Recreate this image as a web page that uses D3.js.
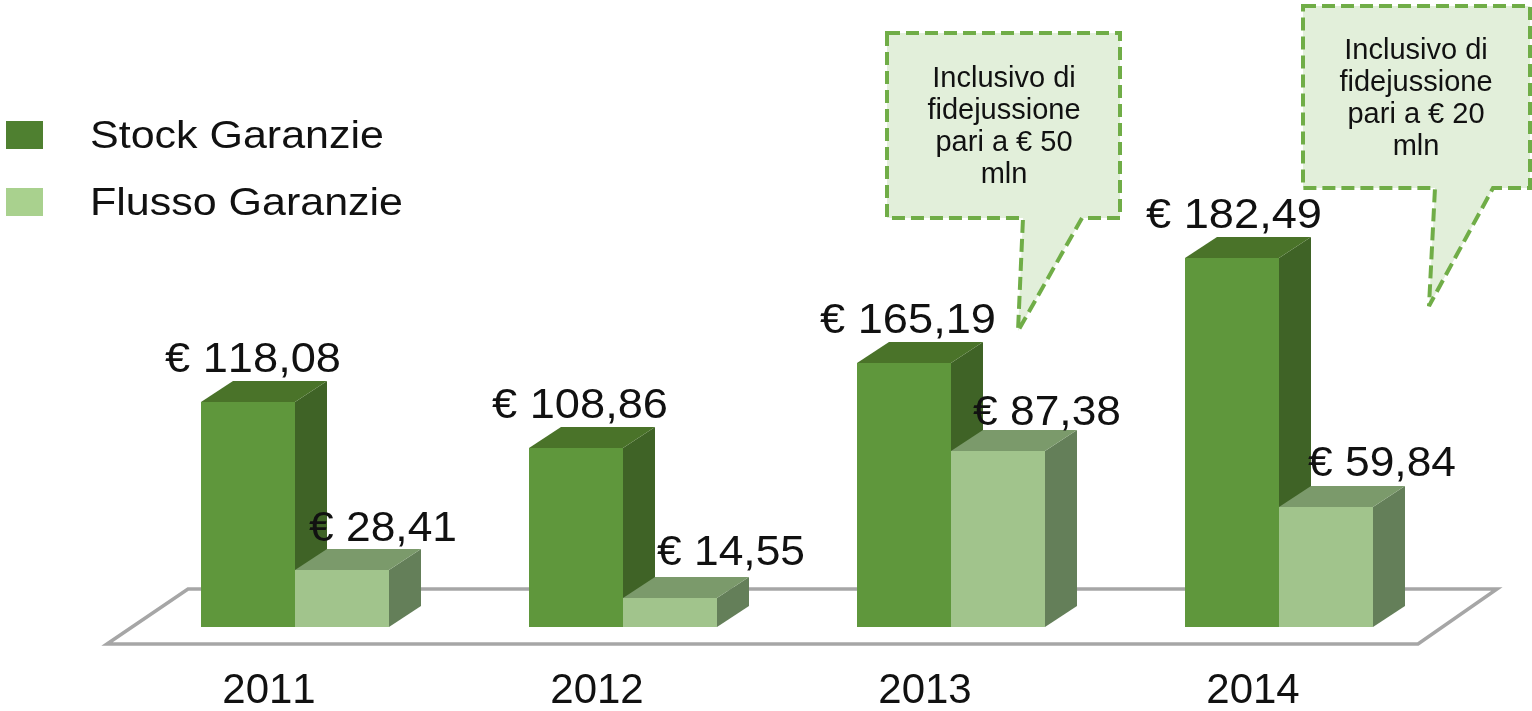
<!DOCTYPE html>
<html><head><meta charset="utf-8">
<script src="https://cdn.jsdelivr.net/npm/d3@7/dist/d3.min.js"></script>
<style>
html,body{margin:0;padding:0;background:#fff;overflow:hidden}
svg{display:block;filter:blur(0.6px)}
text{font-family:"Liberation Sans",Arial,sans-serif;fill:#111;font-kerning:none}
</style></head><body>
<script>
const years = ["2011","2012","2013","2014"];
const seriesNames = ["Stock Garanzie","Flusso Garanzie"];
// values printed on the chart
const stockLabels = [118.08,108.86,165.19,182.49];
const flowLabels = [28.41,14.55,87.38,59.84];
// bar heights as drawn, read on the same scale (the stock bars do not all follow their printed value)
const stockDrawn = [112,89,131.3,183.6];
const flowDrawn = [28.41,14.55,87.38,59.84];
const calloutOne = ["Inclusivo di","fidejussione","pari a € 50","mln"];
const calloutTwo = ["Inclusivo di","fidejussione","pari a € 20","mln"];

const W=1532,H=711,base=627,dx=32,dy=-21;
const svg=d3.select("body").append("svg").attr("width",W).attr("height",H);
const x0=d3.scaleBand().domain(years).range([131,1443]);
const x1=d3.scaleBand().domain(["stock","flow"]).range([0,188]);
const y=d3.scaleLinear().domain([0,200]).range([base,base-402]);
const offset=(x0.bandwidth()-188)/2;
const fmt=d3.formatLocale({decimal:",",thousands:".",grouping:[3],currency:["€ ",""]}).format("$.2f");

// floor
svg.append("polygon").attr("points","107,644 188,589 1497,589 1418,644")
  .attr("fill","#fff").attr("stroke","#a6a6a6").attr("stroke-width",3.5);

const palette={stock:{front:"#5f973c",top:"#4a7329",side:"#3f6326"},
               flow:{front:"#a1c48c",top:"#7b9a6b",side:"#647f59"}};
function bar(g,key,year,v){
  const c=palette[key],l=x0(year)+offset+x1(key),w=x1.bandwidth(),r=l+w,t=Math.round(y(v)),b=y(0);
  g.append("polygon").attr("points",[[r,t],[r+dx,t+dy],[r+dx,b+dy],[r,b]].join(" ")).attr("fill",c.side);
  g.append("polygon").attr("points",[[l,t],[l+dx,t+dy],[r+dx,t+dy],[r,t]].join(" ")).attr("fill",c.top);
  g.append("rect").attr("x",l).attr("y",t).attr("width",w).attr("height",b-t).attr("fill",c.front);
}
const bars=svg.append("g");
years.forEach((yr,i)=>{bar(bars,"stock",yr,stockDrawn[i]);bar(bars,"flow",yr,flowDrawn[i]);});

// data labels: nudges from the bar's top-centre, by hand as in the source
const stockNudge=[[5,-30],[4,-30],[4,-30],[2,-30]];
const flowNudge=[[41,-29],[61,-33],[49,-26],[56,-31]];
const labels=svg.append("g").attr("font-size",42).attr("text-anchor","middle");
years.forEach((yr,i)=>{
  labels.append("text").text(fmt(stockLabels[i])).attr("textLength",176).attr("lengthAdjust","spacingAndGlyphs")
    .attr("x",x0(yr)+offset+x1("stock")+x1.bandwidth()/2+stockNudge[i][0])
    .attr("y",y(stockDrawn[i])+stockNudge[i][1]);
  labels.append("text").text(fmt(flowLabels[i])).attr("textLength",148).attr("lengthAdjust","spacingAndGlyphs")
    .attr("x",x0(yr)+offset+x1("flow")+x1.bandwidth()/2+flowNudge[i][0])
    .attr("y",y(flowDrawn[i])+flowNudge[i][1]);
});

// axis labels
svg.append("g").attr("transform","translate(-26,703)")
  .call(d3.axisBottom(x0).tickSize(0).tickPadding(0))
  .call(g=>g.select(".domain").remove())
  .call(g=>g.selectAll("text").attr("font-size",42).attr("font-family",'"Liberation Sans",Arial,sans-serif').attr("dy",0).attr("y",0).attr("fill","#111"));

// legend
const legendColors=["#4f8030","#a9d18e"];
const legendWidths=[294,313];
seriesNames.forEach((n,i)=>{
  const g=svg.append("g").attr("transform",`translate(0,${121+i*67})`);
  g.append("rect").attr("x",6).attr("y",0).attr("width",37).attr("height",28).attr("fill",legendColors[i]);
  g.append("text").attr("x",90).attr("y",27).attr("font-size",39).attr("textLength",legendWidths[i]).attr("lengthAdjust","spacingAndGlyphs").text(n);
});

// callouts
function callout(pts,cx,ty,lines){
  svg.append("polygon").attr("points",pts.join(" "))
    .attr("fill","#e2efda").attr("stroke","#70ad47").attr("stroke-width",4).attr("stroke-dasharray","13 6");
  const t=svg.append("text").attr("text-anchor","middle").attr("font-size",29);
  lines.forEach((s,i)=>t.append("tspan").attr("x",cx).attr("y",ty+i*32).text(s));
}
callout([[887,33],[1120,33],[1120,218],[1082,218],[1018,331],[1023,218],[887,218]],1004,87,calloutOne);
callout([[1303,6],[1530,6],[1530,188],[1493,188],[1429,306],[1435,188],[1303,188]],1416,59,calloutTwo);
</script>
</body></html>
